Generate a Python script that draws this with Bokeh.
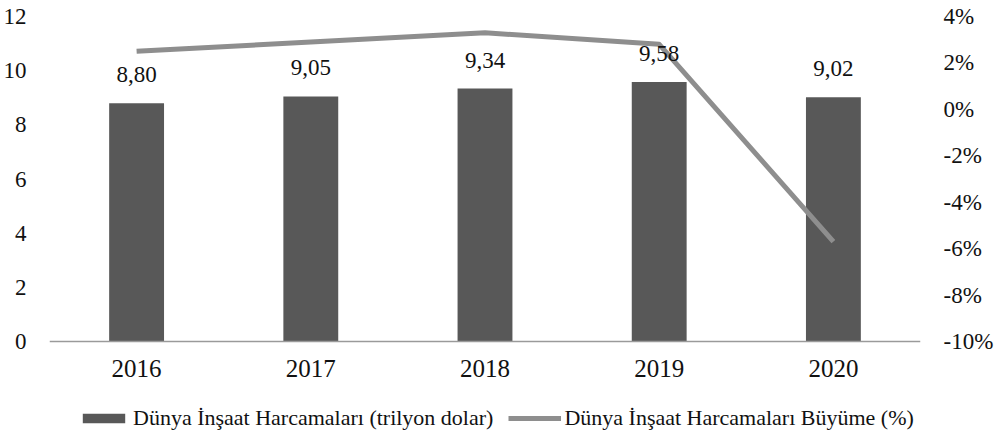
from bokeh.plotting import figure
from bokeh.models import (Range1d, LinearAxis, FactorRange, ColumnDataSource, Legend,
                          LegendItem, CustomJSTickFormatter, FixedTicker, LabelSet)
from bokeh.core.properties import value
from bokeh.embed import file_html
from bokeh.resources import INLINE

years = ["2016", "2017", "2018", "2019", "2020"]
spending = [8.80, 9.05, 9.34, 9.58, 9.02]
spending_labels = ["8,80", "9,05", "9,34", "9,58", "9,02"]
growth = [2.5, 2.9, 3.3, 2.8, -5.7]
left_ticks = [0, 2, 4, 6, 8, 10, 12]
right_ticks = [-10, -8, -6, -4, -2, 0, 2, 4]
bar_name = "Dünya İnşaat Harcamaları (trilyon dolar)"
line_name = "Dünya İnşaat Harcamaları Büyüme (%)"

FONT = "Liberation Serif"
BAR_COLOR = "#585858"
LINE_COLOR = "#8e8e8e"

# layout: the frame reaches below the value axis to hold the legend
FRAME_H = 415      # whole frame height (px)
AXIS_SPAN = 325    # px used by the 0..12 / -10..4 scales
extra = (FRAME_H - AXIS_SPAN) / AXIS_SPAN
left_lo, left_hi = 0, 12
right_lo, right_hi = -10, 4

src = ColumnDataSource(dict(year=years, spending=spending, label=spending_labels, growth=growth))

p = figure(x_range=FactorRange(*years, range_padding=0),
           y_range=Range1d(left_lo - (left_hi - left_lo) * extra, left_hi),
           frame_width=871, frame_height=FRAME_H, output_backend="svg", toolbar_location=None,
           min_border_left=44, min_border_right=60, min_border_top=16, min_border_bottom=0)
p.outline_line_color = None
p.xgrid.grid_line_color = None
p.ygrid.grid_line_color = None

p.extra_y_ranges = {"pct": Range1d(right_lo - (right_hi - right_lo) * extra, right_hi)}

bars = p.vbar(x="year", top="spending", width=0.315, source=src,
              fill_color=BAR_COLOR, line_color=None)
line = p.line(x="year", y="growth", source=src, y_range_name="pct",
              line_color=LINE_COLOR, line_width=5, line_join="round")

labels = LabelSet(x="year", y="spending", text="label", source=src,
                  text_align="center", text_baseline="bottom", y_offset=21,
                  text_font=value(FONT), text_font_size="23px", text_color="#111111")
p.add_layout(labels)

# left axis
ya = p.yaxis[0]
ya.ticker = FixedTicker(ticks=left_ticks)
ya.axis_line_color = None
ya.major_tick_line_color = None
ya.minor_tick_line_color = None
ya.major_label_standoff = 17
ya.major_label_text_font = FONT
ya.major_label_text_font_size = "23px"
ya.major_label_text_color = "#111111"

# right axis
ra = LinearAxis(y_range_name="pct", ticker=FixedTicker(ticks=right_ticks),
                formatter=CustomJSTickFormatter(code="return tick.toFixed(0) + '%';"))
ra.axis_line_color = None
ra.major_tick_line_color = None
ra.minor_tick_line_color = None
ra.major_label_standoff = 17
ra.major_label_text_font = FONT
ra.major_label_text_font_size = "23px"
ra.major_label_text_color = "#111111"
p.add_layout(ra, "right")

# x axis, sitting on the zero line
xa = p.xaxis[0]
xa.fixed_location = 0
xa.axis_line_color = "#9a9a9a"
xa.axis_line_width = 1.5
xa.major_tick_line_color = None
xa.minor_tick_line_color = None
xa.major_label_standoff = 12
xa.major_label_text_font = FONT
xa.major_label_text_font_size = "25px"
xa.major_label_text_color = "#111111"

legend = Legend(items=[LegendItem(label=bar_name, renderers=[bars]),
                       LegendItem(label=line_name, renderers=[line])],
                orientation="horizontal", location=(28, 0),
                glyph_width=53, glyph_height=12, label_standoff=3, spacing=15,
                label_text_font=FONT, label_text_font_size="22px", label_text_color="#111111",
                border_line_color=None, background_fill_alpha=0, padding=0, margin=0)
p.add_layout(legend)

open("out.html", "w").write(file_html(p, INLINE))
